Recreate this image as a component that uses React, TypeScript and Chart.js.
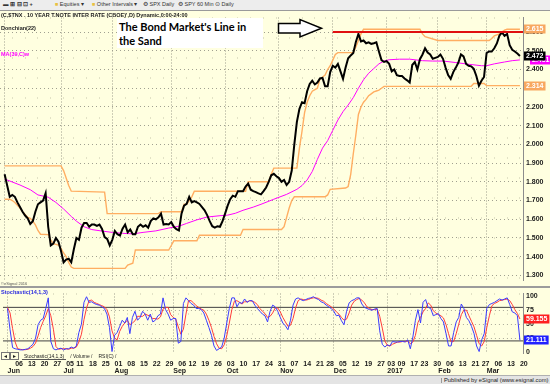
import React, { useEffect, useRef } from 'react';
import { Chart, registerables } from 'chart.js';

Chart.register(...registerables);

// ---------------- data ----------------
const firstDay = '2016-06-01';
const lastDay = '2017-03-20';
const marketHolidays = ['2016-07-04', '2016-09-05', '2016-11-24', '2016-12-26', '2017-01-02', '2017-01-16', '2017-02-20'];
const monthNames = ['Jan', 'Feb', 'Mar', 'Apr', 'May', 'Jun', 'Jul', 'Aug', 'Sep', 'Oct', 'Nov', 'Dec'];

// $TNX daily close (one per trading day)
const closes = [
  1.84, 1.78, 1.72, 1.73, 1.72, 1.69, 1.665, 1.64, 1.62, 1.605,
  1.575, 1.59, 1.64, 1.68, 1.69, 1.70, 1.74, 1.56, 1.46, 1.47,
  1.50, 1.48, 1.43, 1.37, 1.385, 1.39, 1.37, 1.44, 1.50, 1.49,
  1.555, 1.58, 1.58, 1.56, 1.572, 1.572, 1.565, 1.572, 1.548, 1.505,
  1.495, 1.46, 1.49, 1.538, 1.52, 1.513, 1.55, 1.572, 1.53, 1.545,
  1.52, 1.52, 1.56, 1.572, 1.56, 1.568, 1.555, 1.59, 1.605, 1.60,
  1.61, 1.63, 1.572, 1.575, 1.572, 1.585, 1.56, 1.547, 1.54, 1.63,
  1.673, 1.682, 1.72, 1.69, 1.697, 1.69, 1.682, 1.665, 1.648, 1.622,
  1.59, 1.563, 1.555, 1.563, 1.56, 1.59, 1.63, 1.673, 1.707, 1.726,
  1.72, 1.75, 1.75, 1.75, 1.775, 1.79, 1.758, 1.75, 1.745, 1.738,
  1.733, 1.75, 1.77, 1.80, 1.835, 1.843, 1.83, 1.82, 1.80, 1.81,
  1.783, 1.80, 1.86, 2.00, 2.12, 2.19, 2.225, 2.22, 2.284, 2.323,
  2.34, 2.32, 2.33, 2.352, 2.355, 2.31, 2.31, 2.386, 2.42, 2.41,
  2.43, 2.39, 2.35, 2.41, 2.46, 2.475, 2.488, 2.547, 2.59, 2.55,
  2.555, 2.54, 2.545, 2.537, 2.54, 2.545, 2.496, 2.45, 2.44, 2.445,
  2.43, 2.39, 2.40, 2.37, 2.365, 2.365, 2.352, 2.342, 2.33, 2.424,
  2.44, 2.40, 2.455, 2.48, 2.513, 2.49, 2.48, 2.457, 2.462, 2.467,
  2.48, 2.457, 2.41, 2.37, 2.35, 2.386, 2.41, 2.437, 2.48, 2.47,
  2.43, 2.42, 2.417, 2.403, 2.365, 2.313, 2.34, 2.36, 2.488, 2.496,
  2.496, 2.513, 2.539, 2.581, 2.598, 2.58, 2.59, 2.53, 2.505, 2.496,
  2.485, 2.472,
];

// Donchian(22) channel: [trading-day index, value] at each change
const donchianUpper: [number, number][] = [
  [0, 1.885], [22, 1.885], [23, 1.86], [24, 1.82], [25, 1.78], [26, 1.75], [39, 1.745], [40, 1.63],
  [60, 1.63], [61, 1.64], [69, 1.64], [70, 1.68], [71, 1.68], [72, 1.70], [73, 1.72], [74, 1.75],
  [94, 1.75], [95, 1.80], [103, 1.80], [104, 1.84], [105, 1.873], [114, 1.873], [115, 1.98], [116, 2.07],
  [117, 2.17], [118, 2.225], [119, 2.26], [120, 2.284], [122, 2.30], [123, 2.35], [124, 2.36], [125, 2.37],
  [126, 2.40], [127, 2.42], [128, 2.45], [129, 2.48], [130, 2.49], [136, 2.49], [137, 2.52], [138, 2.555],
  [139, 2.59], [140, 2.615], [162, 2.615], [163, 2.59], [164, 2.575], [169, 2.555], [189, 2.555], [190, 2.565],
  [191, 2.58], [193, 2.59], [195, 2.61], [196, 2.615], [201, 2.615],
];
const donchianLower: [number, number][] = [
  [0, 1.707], [2, 1.707], [3, 1.70], [4, 1.69], [5, 1.675], [6, 1.66], [7, 1.64], [8, 1.625], [9, 1.61],
  [10, 1.605], [11, 1.59], [12, 1.57], [13, 1.54], [14, 1.52], [17, 1.518], [18, 1.49], [19, 1.47],
  [21, 1.462], [22, 1.445], [23, 1.42], [24, 1.40], [25, 1.37], [26, 1.345], [27, 1.338], [47, 1.338],
  [48, 1.355], [50, 1.365], [51, 1.436], [64, 1.436], [65, 1.46], [66, 1.485], [75, 1.485], [76, 1.515],
  [92, 1.515], [93, 1.545], [108, 1.545], [109, 1.56], [110, 1.61], [111, 1.66], [112, 1.70], [113, 1.72],
  [125, 1.72], [126, 1.73], [127, 1.76], [133, 1.767], [134, 1.775], [135, 1.84], [136, 1.95], [137, 2.05],
  [138, 2.16], [139, 2.20], [140, 2.225], [141, 2.24], [142, 2.26], [143, 2.27], [144, 2.28], [145, 2.285],
  [146, 2.29], [147, 2.30], [148, 2.31], [182, 2.31], [183, 2.325], [187, 2.325], [188, 2.314], [201, 2.314],
];

// MA(39,C)w
const ma39: [number, number][] = [
  [0, 1.815], [6, 1.783], [10, 1.758], [13, 1.73], [17, 1.718], [20, 1.69], [23, 1.655], [26, 1.615],
  [28, 1.59], [31, 1.56], [34, 1.545], [38, 1.537], [42, 1.53], [46, 1.525], [50, 1.522], [54, 1.53],
  [59, 1.538], [64, 1.553], [68, 1.563], [71, 1.578], [75, 1.597], [79, 1.612], [84, 1.619], [87, 1.622],
  [90, 1.632], [93, 1.648], [97, 1.665], [100, 1.68], [105, 1.707], [110, 1.733], [114, 1.76], [116, 1.78],
  [118, 1.81], [120, 1.855], [122, 1.92], [124, 1.98], [126, 2.02], [128, 2.075], [130, 2.13], [132, 2.175],
  [134, 2.21], [136, 2.25], [138, 2.30], [140, 2.345], [142, 2.38], [144, 2.405], [146, 2.43], [148, 2.445],
  [150, 2.452], [154, 2.455], [158, 2.455], [163, 2.447], [167, 2.445], [171, 2.445], [176, 2.437], [181, 2.428],
  [186, 2.42], [188, 2.42], [191, 2.43], [195, 2.44], [198, 2.447], [201, 2.451],
];

// Stochastic(14,1,3)
const stochK = [
  78, 40, 8, 6, 5, 4, 4, 5, 6, 10, 14, 25, 49, 57, 60, 78, 97, 19, 6, 4,
  6, 7, 4, 6, 6, 9, 7, 11, 35, 50, 89, 99, 89, 90, 87, 85, 84, 81, 78, 68,
  44, 1, 30, 35, 46, 57, 52, 62, 33, 62, 73, 57, 62, 73, 68, 57, 68, 54, 57, 65,
  68, 97, 76, 68, 57, 60, 60, 16, 19, 87, 97, 92, 87, 84, 78, 78, 76, 70, 57, 44,
  30, 11, 3, 6, 9, 25, 52, 78, 97, 97, 81, 89, 87, 95, 89, 92, 92, 84, 78, 73,
  68, 65, 54, 73, 84, 81, 73, 62, 52, 47, 40, 57, 84, 95, 97, 94, 92, 94, 96, 97,
  99, 96, 94, 90, 88, 84, 81, 78, 73, 65, 66, 56, 49, 73, 88, 92, 94, 97, 97, 86,
  80, 78, 76, 75, 77, 78, 38, 14, 9, 13, 11, 19, 18, 18, 19, 19, 18, 22, 6, 27,
  57, 76, 52, 89, 94, 80, 78, 65, 67, 69, 60, 54, 33, 11, 11, 35, 54, 62, 86, 78,
  62, 56, 46, 33, 11, 1, 22, 33, 78, 85, 87, 89, 92, 95, 93, 95, 97, 85, 72, 70,
  65, 21.111,
];
const stochD = [
  80, 70, 42, 18, 6, 5, 4.3, 4.3, 5, 7, 10, 16, 29, 44, 55, 65, 78, 65, 41, 10,
  5, 6, 6, 6, 5, 7, 7, 9, 18, 32, 58, 79, 92, 93, 89, 87, 85, 83, 81, 76,
  63, 38, 25, 22, 37, 46, 52, 57, 49, 52, 56, 64, 64, 64, 68, 66, 64, 60, 60, 59,
  63, 77, 80, 80, 67, 62, 59, 45, 32, 41, 68, 92, 92, 88, 83, 80, 77, 75, 68, 57,
  44, 28, 15, 7, 6, 13, 29, 52, 76, 91, 92, 89, 86, 90, 90, 92, 91, 89, 85, 78,
  73, 69, 62, 64, 70, 79, 79, 72, 62, 54, 46, 48, 60, 79, 92, 95, 94, 93, 94, 96,
  97, 97, 96, 93, 91, 87, 84, 81, 77, 72, 68, 62, 57, 59, 70, 84, 91, 94, 96, 93,
  88, 81, 78, 76, 76, 77, 64, 43, 20, 12, 11, 14, 16, 18, 18, 19, 19, 20, 15, 18,
  30, 53, 62, 72, 78, 88, 84, 74, 70, 67, 65, 61, 49, 33, 18, 19, 33, 50, 67, 75,
  75, 65, 55, 45, 30, 15, 11, 19, 44, 65, 83, 87, 89, 92, 93, 94, 95, 92, 85, 76,
  69, 59.155,
];
const stochBands = [20, 80];
const stochTicks = [0, 25, 50, 75, 100];

// "line in the sand"
const sandLevel = 2.6;
const sandStartIdx = 128;

// ---------------- helpers ----------------
function buildTradingDays(): Date[] {
  const out: Date[] = [];
  const d = new Date(firstDay + 'T00:00:00Z');
  const end = new Date(lastDay + 'T00:00:00Z');
  while (d <= end) {
    const dow = d.getUTCDay();
    const iso = d.toISOString().slice(0, 10);
    if (dow !== 0 && dow !== 6 && !marketHolidays.includes(iso)) out.push(new Date(d.getTime()));
    d.setUTCDate(d.getUTCDate() + 1);
  }
  return out;
}

const X_MIN = -1.8;
const X_MAX = 202.2;
const AXIS_W = 27;
const BG = '#FFFFE0';
const BAND = '#FFAE62';
const FONT = '"Liberation Sans", Arial, sans-serif';
const tickFont = { family: FONT, size: 7, weight: 'bold' as const, lineHeight: 1 };

type Box = { axis: string; value: number; text: string; bg: string; fg: string; dx?: number };

function boxPlugin(id: string, boxes: Box[]) {
  return {
    id,
    afterDraw(chart: any) {
      const ctx = chart.ctx as CanvasRenderingContext2D;
      const area = chart.chartArea;
      ctx.save();
      ctx.font = `bold 7px ${FONT}`;
      ctx.textBaseline = 'middle';
      for (const b of boxes) {
        const y = chart.scales[b.axis].getPixelForValue(b.value);
        const x0 = area.right + 1 + (b.dx || 0);
        const w = ctx.measureText(b.text).width + 4;
        ctx.fillStyle = b.bg;
        ctx.fillRect(x0, Math.round(y) - 4.5, w, 9);
        ctx.fillStyle = b.fg;
        ctx.textAlign = 'left';
        ctx.fillText(b.text, x0 + 2, Math.round(y) + 0.5);
      }
      ctx.restore();
    },
  };
}

const isMajorPrice = (v: number) => Math.abs(v * 10 - Math.round(v * 10)) < 1e-6;

export default function App() {
  const priceRef = useRef<HTMLCanvasElement>(null);
  const stochRef = useRef<HTMLCanvasElement>(null);

  useEffect(() => {
    const days = buildTradingDays();
    const monthStarts = new Set<number>();
    const tickLabels = new Map<number, string[]>();
    days.forEach((d, i) => {
      const prev = i > 0 ? days[i - 1] : null;
      const isMonth = !prev || prev.getUTCMonth() !== d.getUTCMonth();
      const isWeek = !!prev && d.getUTCDay() < prev.getUTCDay();
      if (isMonth) monthStarts.add(i);
      if (isMonth || isWeek) {
        const dayTxt = isWeek ? String(d.getUTCDate()).padStart(2, '0') : '';
        const monTxt = isMonth ? (d.getUTCMonth() === 0 ? String(d.getUTCFullYear()) : monthNames[d.getUTCMonth()]) : '';
        tickLabels.set(i, [dayTxt, monTxt]);
      }
    });
    const tickValues = Array.from(tickLabels.keys());
    const gridColor = (ctx: any) =>
      ctx.tick && monthStarts.has(ctx.tick.value) ? '#9c9c8c' : ctx.tick ? 'rgba(150,150,130,0.55)' : 'rgba(0,0,0,0)';
    const gridDash = (ctx: any) => (ctx.tick && monthStarts.has(ctx.tick.value) ? [1, 2] : [1, 19]);

    const xScale = (showLabels: boolean) => ({
      type: 'linear' as const,
      min: X_MIN,
      max: X_MAX,
      afterBuildTicks: (s: any) => {
        s.ticks = tickValues.map((v) => ({ value: v }));
      },
      afterFit: (s: any) => {
        s.height = showLabels ? 22 : 0;
      },
      grid: { color: gridColor, drawTicks: false, lineWidth: 1 },
      border: { display: false, dash: gridDash },
      ticks: {
        display: showLabels,
        autoSkip: false,
        maxRotation: 0,
        minRotation: 0,
        align: 'start' as const,
        padding: 7.5,
        color: '#1a1a1a',
        font: tickFont,
        callback: (v: any) => tickLabels.get(v) ?? '',
      },
    });

    const priceChart = new Chart(priceRef.current!, {
      type: 'line',
      data: {
        datasets: [
          { label: 'sand', data: [{ x: sandStartIdx, y: sandLevel }, { x: X_MAX, y: sandLevel }], borderColor: '#E01010', borderWidth: 2 },
          { label: 'close', data: closes.map((y, x) => ({ x, y })), borderColor: '#000000', borderWidth: 2 },
          { label: 'ma', data: ma39.map(([x, y]) => ({ x, y })), borderColor: '#FF00FF', borderWidth: 1 },
          { label: 'upper', data: donchianUpper.map(([x, y]) => ({ x, y })), borderColor: BAND, borderWidth: 1.4 },
          { label: 'lower', data: donchianLower.map(([x, y]) => ({ x, y })), borderColor: BAND, borderWidth: 1.4 },
        ],
      },
      options: {
        animation: false,
        responsive: false,
        devicePixelRatio: 1,
        elements: { point: { radius: 0 }, line: { tension: 0 } },
        plugins: { legend: { display: false }, tooltip: { enabled: false } },
        layout: { padding: 0 },
        scales: {
          x: xScale(false) as any,
          y: {
            type: 'linear',
            position: 'right',
            min: 1.273,
            max: 2.6776,
            afterFit: (s: any) => {
              s.width = AXIS_W;
            },
            grid: {
              color: (c: any) => (c.tick && isMajorPrice(c.tick.value) ? '#a0a090' : 'rgba(150,150,130,0.6)'),
              drawTicks: false,
            },
            border: {
              display: true,
              color: '#8c8c8c',
              width: 1,
              dash: (c: any) => (c.tick && isMajorPrice(c.tick.value) ? [1, 3] : [1, 11]),
            },
            ticks: {
              stepSize: 0.05,
              includeBounds: false,
              padding: 3,
              color: '#1a1a1a',
              font: tickFont,
              callback: (v: any) => (isMajorPrice(Number(v)) ? Number(v).toFixed(3) : ''),
            },
          },
        },
      },
      plugins: [
        boxPlugin('priceBoxes', [
          { axis: 'y', value: donchianUpper[donchianUpper.length - 1][1], text: donchianUpper[donchianUpper.length - 1][1].toFixed(3), bg: '#F8A860', fg: '#FFFFFF' },
          { axis: 'y', value: donchianLower[donchianLower.length - 1][1], text: donchianLower[donchianLower.length - 1][1].toFixed(3), bg: '#F8A860', fg: '#FFFFFF' },
          { axis: 'y', value: ma39[ma39.length - 1][1], text: ma39[ma39.length - 1][1].toFixed(3), bg: '#FF00FF', fg: '#FFFFFF', dx: 6 },
          { axis: 'y', value: closes[closes.length - 1], text: closes[closes.length - 1].toFixed(3), bg: '#000000', fg: '#FFFFFF' },
        ]),
      ],
    });

    const stochChart = new Chart(stochRef.current!, {
      type: 'line',
      data: {
        datasets: [
          { label: '%K', data: stochK.map((y, x) => ({ x, y })), borderColor: '#3b3bff', borderWidth: 1 },
          { label: '%D', data: stochD.map((y, x) => ({ x, y })), borderColor: '#ff3b3b', borderWidth: 1 },
          ...stochBands.map((b) => ({ label: 'band' + b, data: [{ x: X_MIN, y: b }, { x: X_MAX, y: b }], borderColor: '#404040', borderWidth: 1 })),
        ],
      },
      options: {
        animation: false,
        responsive: false,
        devicePixelRatio: 1,
        elements: { point: { radius: 0 }, line: { tension: 0 } },
        plugins: { legend: { display: false }, tooltip: { enabled: false } },
        layout: { padding: 0 },
        scales: {
          x: xScale(true) as any,
          y: {
            type: 'linear',
            position: 'right',
            min: -1.6,
            max: 104.8,
            afterFit: (s: any) => {
              s.width = AXIS_W;
            },
            afterBuildTicks: (s: any) => {
              s.ticks = stochTicks.map((v) => ({ value: v }));
            },
            grid: { color: (c: any) => (c.tick && (c.tick.value === 25 || c.tick.value === 50 || c.tick.value === 75) ? '#a8a898' : 'rgba(0,0,0,0)'), drawTicks: false },
            border: { display: true, color: '#8c8c8c', width: 1, dash: [1, 3] },
            ticks: {
              padding: 3,
              color: '#1a1a1a',
              font: tickFont,
              callback: (v: any) => String(v),
            },
          },
        },
      },
      plugins: [
        boxPlugin('stochBoxes', [
          { axis: 'y', value: stochD[stochD.length - 1], text: stochD[stochD.length - 1].toFixed(3), bg: '#FF2020', fg: '#FFFFFF' },
          { axis: 'y', value: stochK[stochK.length - 1], text: stochK[stochK.length - 1].toFixed(3), bg: '#2020FF', fg: '#FFFFFF' },
        ]),
      ],
    });

    return () => {
      priceChart.destroy();
      stochChart.destroy();
    };
  }, []);

  const small = (extra: React.CSSProperties): React.CSSProperties => ({
    position: 'absolute',
    whiteSpace: 'nowrap',
    lineHeight: 1,
    fontFamily: FONT,
    fontWeight: 'bold',
    ...extra,
  });

  return (
    <div style={{ position: 'fixed', left: 0, top: 0, width: 550, height: 384, background: BG, overflow: 'hidden' }}>
      {/* toolbar */}
      <div style={{ position: 'absolute', left: 0, top: 0, width: 550, height: 10, background: '#EDEDED', borderBottom: '1px solid #9a9a9a' }}>
        <span style={small({ left: 3, top: 2, fontSize: 5.5, color: '#333' })}>▬ ⊞ ⊟ ⊡ +</span>
        <span style={small({ left: 55, top: 2, fontSize: 5.5, color: '#333', fontWeight: 'normal' })}><span style={{ color: '#E8C040' }}>■</span> Equities ▾</span>
        <span style={small({ left: 92, top: 2, fontSize: 5.5, color: '#333', fontWeight: 'normal' })}><span style={{ color: '#E8C040' }}>■</span> Other Intervals ▾</span>
        <span style={small({ left: 143, top: 2, fontSize: 5.5, color: '#333', fontWeight: 'normal' })}>⚙ SPX Daily</span>
        <span style={small({ left: 178, top: 2, fontSize: 5.5, color: '#333', fontWeight: 'normal' })}>⚙ SPY 60 Min</span>
        <span style={small({ left: 215, top: 2, fontSize: 5.5, color: '#333', fontWeight: 'normal' })}>⊙ Daily</span>
      </div>

      <canvas ref={priceRef} width={550} height={276} style={{ position: 'absolute', left: 0, top: 11, width: 550, height: 276 }} />
      <canvas ref={stochRef} width={550} height={88} style={{ position: 'absolute', left: 0, top: 287, width: 550, height: 88 }} />

      {/* panel separator */}
      <div style={{ position: 'absolute', left: 0, top: 286, width: 550, height: 2, background: '#9c9c9c' }} />

      {/* legends */}
      <div style={small({ left: 1, top: 12.5, fontSize: 5.5, color: '#222' })}>(C,$TNX . 10 YEAR T.NOTE INTER RATE (CBOE)',D) Dynamic,0:00-24:00</div>
      <div style={small({ left: 1, top: 26, fontSize: 5.5, color: '#222' })}>Donchian(22)</div>
      <div style={small({ left: 1, top: 52, fontSize: 5.5, color: '#FF00FF' })}>MA(39,C)w</div>
      <div style={small({ left: 1, top: 282, fontSize: 4, color: '#555', fontWeight: 'normal' })}>©eSignal 2016</div>
      <div style={small({ left: 1, top: 290, fontSize: 5.5, color: '#2a2ae0' })}>Stochastic(14,1,3)</div>

      {/* annotation */}
      <div style={{ position: 'absolute', left: 117, top: 18, width: 146, height: 30, background: '#FFFFFF' }}>
        <div style={{ paddingTop: 2, paddingLeft: 2, fontFamily: 'Lato, sans-serif', fontWeight: 'bold', fontSize: 11, lineHeight: '14px', color: '#000', whiteSpace: 'nowrap' }}>
          The Bond Market's Line in
          <br />
          the Sand
        </div>
      </div>
      <svg width={550} height={384} style={{ position: 'absolute', left: 0, top: 0, pointerEvents: 'none' }}>
        <polygon points="278.5,23.5 300,23.5 300,19.5 321.5,28.3 300,37 300,33 278.5,33" fill="#FFFFFF" stroke="#000000" strokeWidth={1.5} />
      </svg>

      {/* tabs */}
      <div style={small({ left: 1, top: 354, fontSize: 5, color: '#222', fontWeight: 'normal' })}>
        <span style={{ border: '1px solid #777', padding: '0 1px' }}>◄</span>
        <span style={{ border: '1px solid #777', padding: '0 1px' }}>►</span>
        <span style={{ marginLeft: 3, borderBottom: '1px solid #555', padding: '0 2px' }}>Stochastic(14,1,3)</span>
        <span style={{ marginLeft: 2, padding: '0 2px' }}>/ Volume /</span>
        <span style={{ marginLeft: 2, padding: '0 2px' }}>RSI(C) /</span>
      </div>

      {/* status bar */}
      <div style={{ position: 'absolute', left: 0, top: 375, width: 550, height: 9, background: '#E4E4E4', borderTop: '1px solid #b0b0b0' }}>
        <div style={small({ left: 441, top: 1.5, fontSize: 5.8, color: '#222', fontWeight: 'normal', borderLeft: '1px solid #999', paddingLeft: 2 })}>Published by eSignal (www.esignal.com)</div>
      </div>
    </div>
  );
}
